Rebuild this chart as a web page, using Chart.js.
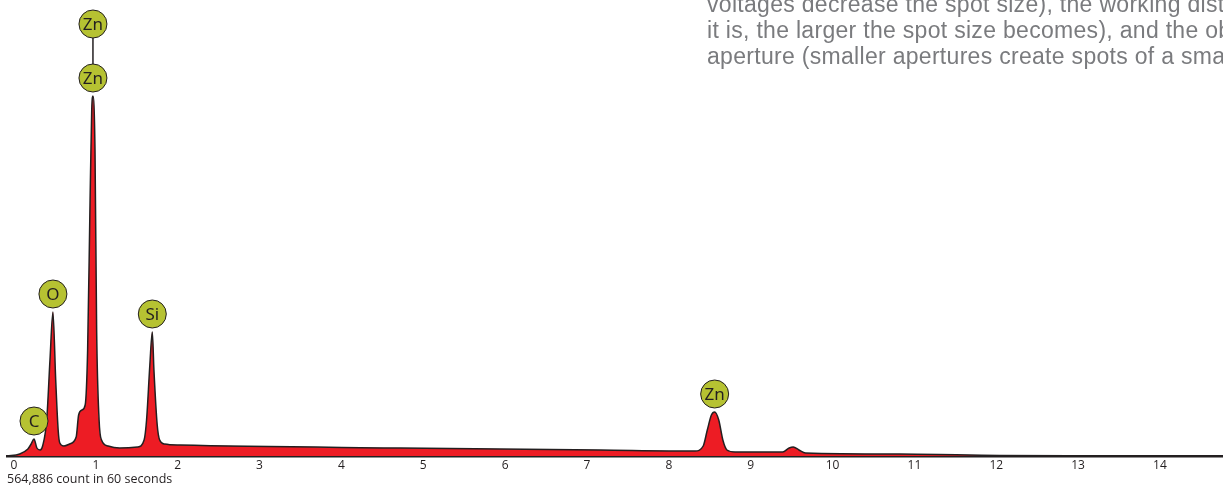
<!DOCTYPE html>
<html>
<head>
<meta charset="utf-8">
<script src="https://cdn.jsdelivr.net/npm/chart.js@4/dist/chart.umd.min.js"></script>
<style>
  html, body { margin: 0; padding: 0; background: #fff; }
  #wrap { position: relative; width: 1223px; height: 487px; overflow: hidden; }
</style>
</head>
<body>
<div id="wrap"><canvas id="myChart" width="1223" height="487"></canvas></div>
<script>
// spectrum (energy in keV, counts in arbitrary units)
const energy = [
  -0.085, 0.07, 0.17, 0.21, 0.245, 0.28, 0.32, 0.35, 0.40, 0.44,
  0.476, 0.51, 0.54, 0.56, 0.61, 0.68, 0.76, 0.79, 0.83, 0.87,
  0.90, 0.93, 0.95, 0.965, 0.99, 1.01, 1.04, 1.07, 1.15, 1.29,
  1.51, 1.59, 1.62, 1.66, 1.69, 1.71, 1.75, 1.78, 1.84, 2.03,
  4.72, 7.16, 8.32, 8.42, 8.47, 8.52, 8.56, 8.61, 8.66, 8.71,
  8.81, 9.39, 9.47, 9.52, 9.59, 9.67, 10.82, 12.04, 13.75, 14.77
];
const counts = [
  0, 2, 7, 12, 17, 8, 6, 10, 36, 96,
  144, 76, 26, 13, 10, 12, 19, 41, 46, 51,
  106, 256, 346, 360, 306, 126, 36, 16, 10, 8,
  9, 16, 36, 91, 124, 86, 31, 16, 12, 11,
  8, 6, 5, 10, 26, 41, 44, 36, 16, 6,
  4, 4, 8, 9, 6, 3, 2, 0.5, 0, 0
];

// peak labels
const peakNames = ['C', 'O', 'Zn', 'Zn', 'Si', 'Zn'];
const peakEnergy = [0.245, 0.476, 0.965, 0.965, 1.69, 8.56];
const peakStack = [0, 0, 0, 1, 0, 0];

const tickValues = [0, 1, 2, 3, 4, 5, 6, 7, 8, 9, 10, 11, 12, 13, 14];

const textLines = [
  'voltages decrease the spot size), the working distance (the longer',
  'it is, the larger the spot size becomes), and the objective',
  'aperture (smaller apertures create spots of a smaller size).'
];

const points = energy.map((e, i) => ({ x: e, y: counts[i] }));

const peakLabels = {
  id: 'peakLabels',
  afterDatasetsDraw(chart) {
    const { ctx, scales: { x, y } } = chart;
    ctx.save();
    peakNames.forEach((name, i) => {
      const idx = energy.indexOf(peakEnergy[i]);
      const px = x.getPixelForValue(peakEnergy[i]);
      const cy = y.getPixelForValue(counts[idx]) - 18 - peakStack[i] * 54;
      if (peakStack[i] > 0) {
        ctx.beginPath();
        ctx.strokeStyle = '#231f20';
        ctx.lineWidth = 1.5;
        ctx.moveTo(px, cy + 14);
        ctx.lineTo(px, cy + 54 - 14);
        ctx.stroke();
      }
      ctx.beginPath();
      ctx.arc(px, cy, 14, 0, Math.PI * 2);
      ctx.fillStyle = '#b6c232';
      ctx.fill();
      ctx.lineWidth = 1;
      ctx.strokeStyle = '#231f20';
      ctx.stroke();
      ctx.fillStyle = '#231f20';
      ctx.font = '17px "Noto Sans", sans-serif';
      ctx.textAlign = 'center';
      ctx.textBaseline = 'middle';
      ctx.fillText(name, px, cy + 1);
    });
    ctx.restore();
  }
};

const paragraph = {
  id: 'paragraph',
  afterDraw(chart) {
    const ctx = chart.ctx;
    ctx.save();
    ctx.fillStyle = '#7a7b7e';
    ctx.font = '23px "Liberation Sans", Arial, sans-serif';
    ctx.letterSpacing = '0.3px';
    ctx.textAlign = 'left';
    ctx.textBaseline = 'alphabetic';
    textLines.forEach((t, i) => ctx.fillText(t, 707, 12 + i * 26));
    ctx.restore();
  }
};

const ctx = document.getElementById('myChart').getContext('2d');
new Chart(ctx, {
  type: 'line',
  data: {
    datasets: [{
      data: points,
      borderColor: '#231f20',
      borderWidth: 1.5,
      backgroundColor: '#ed1c24',
      fill: 'origin',
      pointRadius: 0,
      cubicInterpolationMode: 'monotone'
    }]
  },
  options: {
    responsive: false,
    animation: false,
    layout: { padding: { left: 7, right: 0, top: 0, bottom: 0 } },
    scales: {
      x: {
        type: 'linear',
        min: -0.085,
        max: 14.77,
        afterFit: s => { s.height = 31; },
        afterBuildTicks: s => { s.ticks = tickValues.map(v => ({ value: v })); },
        ticks: {
          includeBounds: false,
          padding: 2,
          color: '#231f20',
          font: { family: '"Open Sans", sans-serif', size: 12 },
          maxRotation: 0
        },
        grid: { display: true, drawOnChartArea: false, drawTicks: false },
        border: { display: true, color: '#231f20', width: 2.5 },
        title: {
          display: true,
          align: 'start',
          text: '564,886 count in 60 seconds',
          color: '#231f20',
          font: { family: '"Open Sans", sans-serif', size: 12.5 },
          padding: { top: 0, bottom: 0 }
        }
      },
      y: {
        display: false,
        min: 0,
        max: 456
      }
    },
    plugins: {
      legend: { display: false },
      tooltip: { enabled: false }
    }
  },
  plugins: [peakLabels, paragraph]
});
</script>
</body>
</html>
